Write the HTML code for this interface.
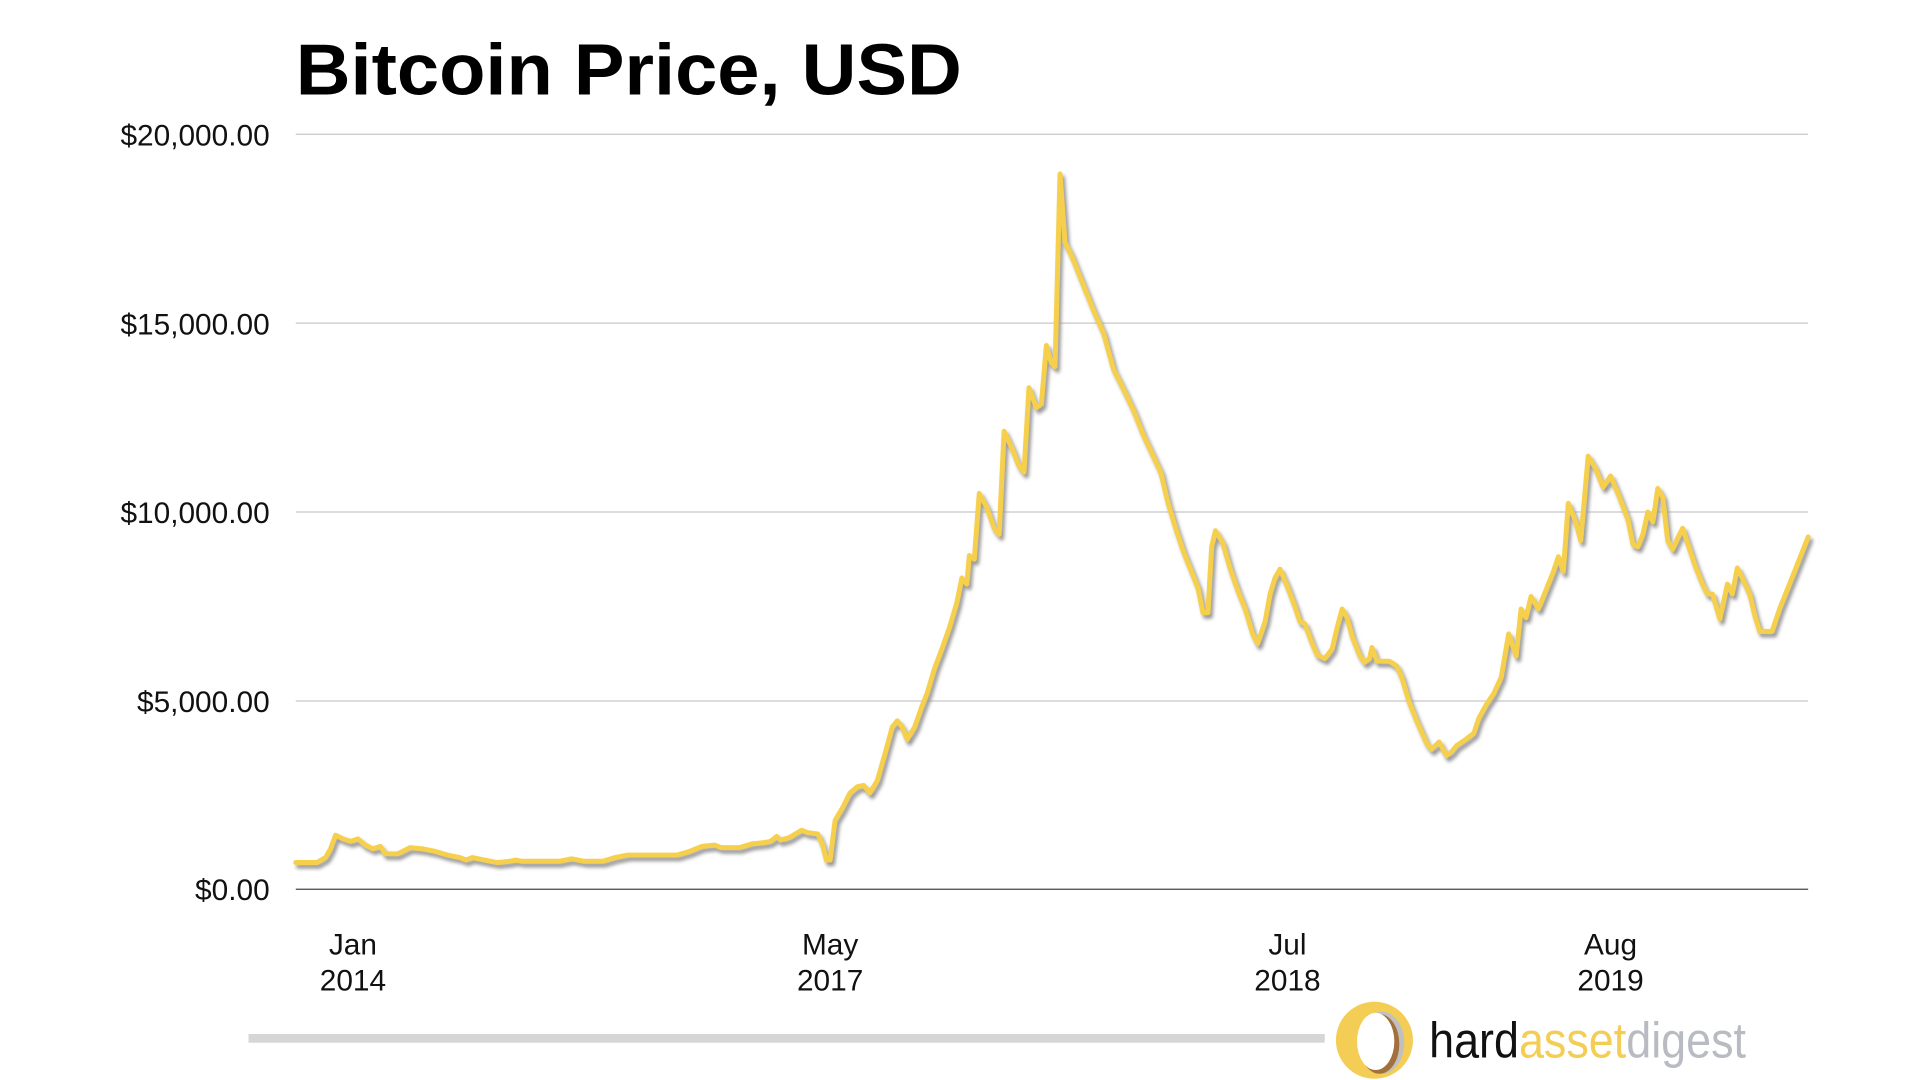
<!DOCTYPE html>
<html><head><meta charset="utf-8"><style>html,body{margin:0;padding:0;background:#fff;width:1920px;height:1080px;overflow:hidden}</style></head>
<body>
<svg width="1920" height="1080" viewBox="0 0 1545 869" preserveAspectRatio="none" xmlns="http://www.w3.org/2000/svg" font-family="Liberation Sans, Arial, sans-serif">
<defs><filter id="sh" x="-5%" y="-5%" width="110%" height="110%"><feGaussianBlur stdDeviation="1.5"/></filter></defs>
<text x="238" y="76" font-size="58" font-weight="bold" fill="#000" textLength="536" lengthAdjust="spacingAndGlyphs">Bitcoin Price, USD</text>
<g stroke="#c8c8c8" stroke-width="1">
<line x1="238" y1="108" x2="1455" y2="108"/><line x1="238" y1="260" x2="1455" y2="260"/><line x1="238" y1="412" x2="1455" y2="412"/><line x1="238" y1="564" x2="1455" y2="564"/>
</g>
<line x1="238" y1="715.5" x2="1455" y2="715.5" stroke="#444" stroke-width="1"/>
<g font-size="24" fill="#111" text-anchor="end">
<text x="217" y="117">$20,000.00</text><text x="217" y="269">$15,000.00</text><text x="217" y="421">$10,000.00</text><text x="217" y="573">$5,000.00</text><text x="217" y="724">$0.00</text>
</g>
<g font-size="24" fill="#111" text-anchor="middle">
<text x="284" y="768">Jan</text><text x="284" y="797">2014</text>
<text x="668" y="768">May</text><text x="668" y="797">2017</text>
<text x="1036" y="768">Jul</text><text x="1036" y="797">2018</text>
<text x="1296" y="768">Aug</text><text x="1296" y="797">2019</text>
</g>
<g fill="none" stroke-linejoin="round" stroke-linecap="round">
<polyline transform="translate(2,3)" filter="url(#sh)" stroke="#999" stroke-width="4" points="238,694 255,694 262,690 266,683 270,672 276,675 282,677 288,675 294,680 300,683 306,681 310,687 320,687 330,682 340,683 350,685 360,688 370,690 375,692 380,690 390,692 400,694 410,693 415,692 420,693 450,693 460,691 470,693 485,693 495,690 505,688 545,688 555,685 565,681 575,680 580,682 595,682 605,679 615,678 620,677 625,673 628,676 635,674 645,668 650,670 658,671 662,680 665,692 668,692 672,660 678,650 684,638 690,633 695,632 700,638 706,628 712,607 718,585 722,580 726,585 730,595 736,585 742,568 746,558 752,538 758,522 764,505 770,485 774,465 778,470 780,447 784,450 788,397 794,408 800,425 804,430 808,347 814,360 820,375 824,380 828,312 834,328 838,325 842,278 846,292 849,295 853,140 857,195 862,205 868,220 874,235 880,250 888,268 896,297 904,313 912,330 920,350 928,367 934,380 940,405 946,425 952,443 958,458 964,473 968,493 972,493 975,440 978,427 984,437 990,458 996,475 1002,490 1008,510 1012,518 1018,500 1022,478 1026,465 1030,458 1036,472 1042,488 1046,500 1050,502 1056,518 1060,527 1066,530 1072,522 1076,505 1080,490 1084,497 1088,512 1094,527 1098,533 1102,530 1104,521 1108,532 1118,532 1124,536 1128,545 1134,565 1140,580 1148,598 1152,603 1158,597 1164,608 1168,605 1172,600 1178,596 1186,590 1190,578 1196,567 1202,558 1208,545 1214,510 1220,528 1224,490 1228,497 1232,480 1238,490 1244,475 1250,460 1254,448 1258,460 1262,405 1268,420 1272,435 1278,367 1284,377 1290,392 1296,383 1302,397 1310,418 1314,438 1318,440 1322,430 1326,412 1330,420 1334,393 1338,400 1342,435 1346,442 1350,433 1354,425 1358,437 1364,455 1370,470 1374,478 1378,478 1384,498 1390,470 1394,478 1398,457 1402,465 1408,478 1412,495 1416,508 1420,508 1426,508 1432,490 1438,475 1446,455 1455,432"/>
<polyline stroke="#f6d04d" stroke-width="4" points="238,694 255,694 262,690 266,683 270,672 276,675 282,677 288,675 294,680 300,683 306,681 310,687 320,687 330,682 340,683 350,685 360,688 370,690 375,692 380,690 390,692 400,694 410,693 415,692 420,693 450,693 460,691 470,693 485,693 495,690 505,688 545,688 555,685 565,681 575,680 580,682 595,682 605,679 615,678 620,677 625,673 628,676 635,674 645,668 650,670 658,671 662,680 665,692 668,692 672,660 678,650 684,638 690,633 695,632 700,638 706,628 712,607 718,585 722,580 726,585 730,595 736,585 742,568 746,558 752,538 758,522 764,505 770,485 774,465 778,470 780,447 784,450 788,397 794,408 800,425 804,430 808,347 814,360 820,375 824,380 828,312 834,328 838,325 842,278 846,292 849,295 853,140 857,195 862,205 868,220 874,235 880,250 888,268 896,297 904,313 912,330 920,350 928,367 934,380 940,405 946,425 952,443 958,458 964,473 968,493 972,493 975,440 978,427 984,437 990,458 996,475 1002,490 1008,510 1012,518 1018,500 1022,478 1026,465 1030,458 1036,472 1042,488 1046,500 1050,502 1056,518 1060,527 1066,530 1072,522 1076,505 1080,490 1084,497 1088,512 1094,527 1098,533 1102,530 1104,521 1108,532 1118,532 1124,536 1128,545 1134,565 1140,580 1148,598 1152,603 1158,597 1164,608 1168,605 1172,600 1178,596 1186,590 1190,578 1196,567 1202,558 1208,545 1214,510 1220,528 1224,490 1228,497 1232,480 1238,490 1244,475 1250,460 1254,448 1258,460 1262,405 1268,420 1272,435 1278,367 1284,377 1290,392 1296,383 1302,397 1310,418 1314,438 1318,440 1322,430 1326,412 1330,420 1334,393 1338,400 1342,435 1346,442 1350,433 1354,425 1358,437 1364,455 1370,470 1374,478 1378,478 1384,498 1390,470 1394,478 1398,457 1402,465 1408,478 1412,495 1416,508 1420,508 1426,508 1432,490 1438,475 1446,455 1455,432"/>
</g>
<rect x="200" y="832" width="866" height="7" fill="#d6d6d6"/>
<circle cx="1106" cy="837" r="31" fill="#f4cd55"/>
<ellipse cx="1112" cy="839" rx="18" ry="25" fill="#c0c0c0"/>
<ellipse cx="1110" cy="840" rx="16" ry="24" fill="#a36f3a"/>
<ellipse cx="1107" cy="838" rx="15" ry="23" fill="#fff"/>
<text x="1150" y="851" font-size="40" textLength="255" lengthAdjust="spacingAndGlyphs"><tspan fill="#111">hard</tspan><tspan fill="#f4cd55">asset</tspan><tspan fill="#b8bcc2">digest</tspan></text>
</svg>
</body></html>
